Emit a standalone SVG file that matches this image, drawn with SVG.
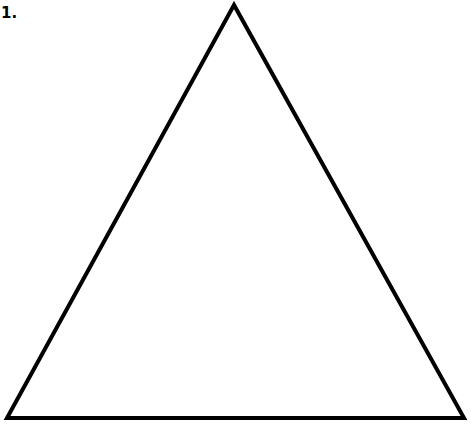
<svg xmlns="http://www.w3.org/2000/svg" width="474" height="426" viewBox="0 0 474 426">
<style>
.lbl{font-family:"DejaVu Sans","Liberation Sans",sans-serif;font-weight:bold;font-size:15px;fill:#000}
.tri{fill:#fff;stroke:#000;stroke-width:4;stroke-linejoin:miter}
</style>
<rect width="474" height="426" fill="#fff"/>
<text class="lbl" x="1" y="18">1.</text>
<g id="triangle">
<polygon class="tri" points="234,5 7,418 464,418"/>
</g>
</svg>
